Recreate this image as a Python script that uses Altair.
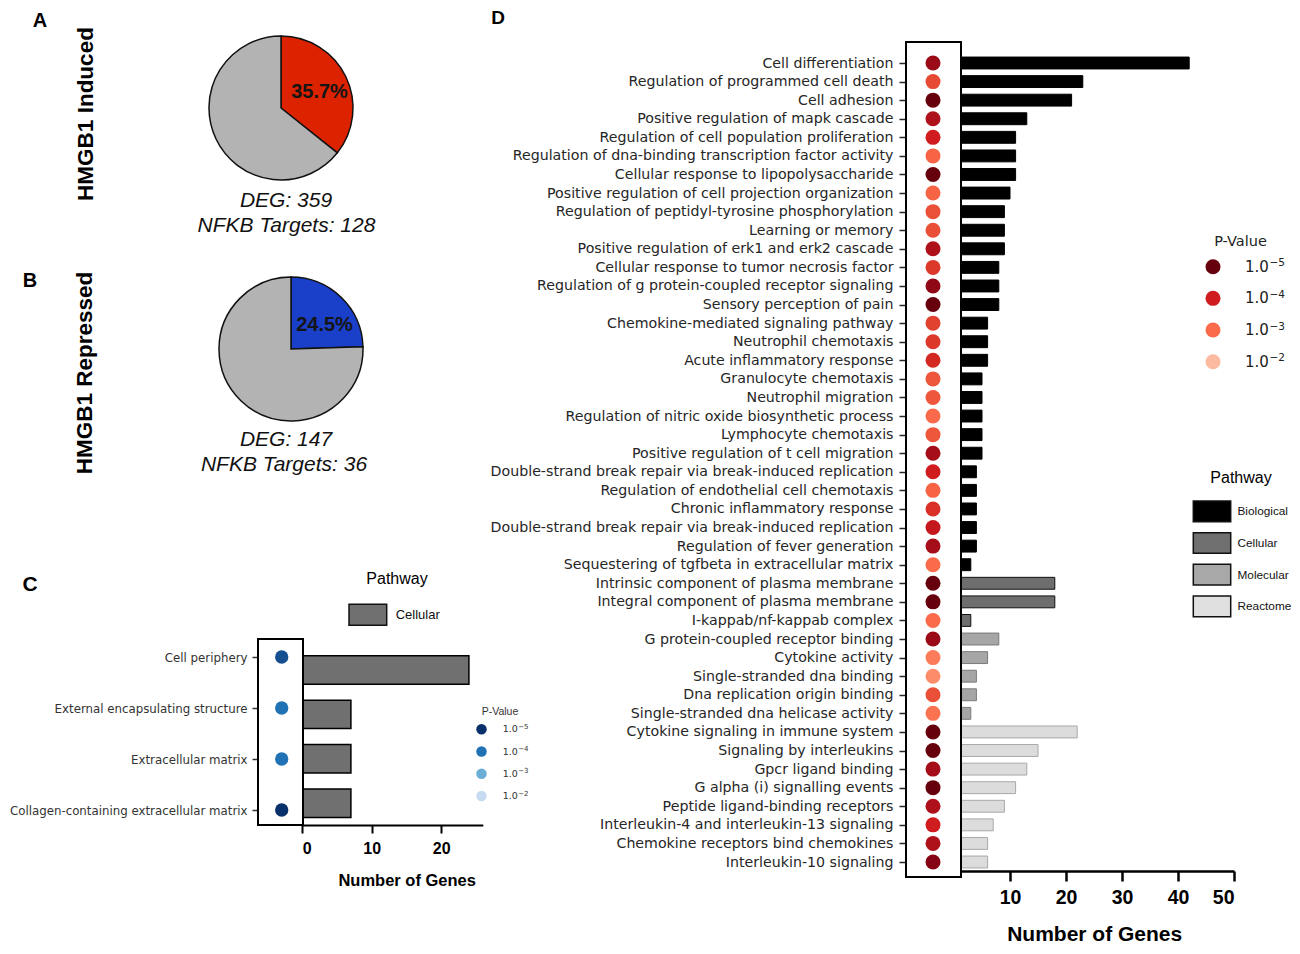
import json
import altair as alt
import pandas as pd

# ---------------- data ----------------
pie_parts = ["NFKB targets", "Other DEG"]
induced_pct = [35.7, 64.3]
repressed_pct = [24.5, 75.5]
induced_deg, induced_targets = 359, 128
repressed_deg, repressed_targets = 147, 36

c_terms = ["Cell periphery", "External encapsulating structure",
           "Extracellular matrix", "Collagen-containing extracellular matrix"]
c_genes = [24, 7, 7, 7]
c_neglog_p = [4.5, 4.0, 4.0, 5.0]

d_terms = [
    "Cell differentiation", "Regulation of programmed cell death", "Cell adhesion",
    "Positive regulation of mapk cascade", "Regulation of cell population proliferation",
    "Regulation of dna-binding transcription factor activity", "Cellular response to lipopolysaccharide",
    "Positive regulation of cell projection organization", "Regulation of peptidyl-tyrosine phosphorylation",
    "Learning or memory", "Positive regulation of erk1 and erk2 cascade",
    "Cellular response to tumor necrosis factor", "Regulation of g protein-coupled receptor signaling",
    "Sensory perception of pain", "Chemokine-mediated signaling pathway", "Neutrophil chemotaxis",
    "Acute inflammatory response", "Granulocyte chemotaxis", "Neutrophil migration",
    "Regulation of nitric oxide biosynthetic process", "Lymphocyte chemotaxis",
    "Positive regulation of t cell migration", "Double-strand break repair via break-induced replication",
    "Regulation of endothelial cell chemotaxis", "Chronic inflammatory response",
    "Double-strand break repair via break-induced replication", "Regulation of fever generation",
    "Sequestering of tgfbeta in extracellular matrix", "Intrinsic component of plasma membrane",
    "Integral component of plasma membrane", "I-kappab/nf-kappab complex",
    "G protein-coupled receptor binding", "Cytokine activity", "Single-stranded dna binding",
    "Dna replication origin binding", "Single-stranded dna helicase activity",
    "Cytokine signaling in immune system", "Signaling by interleukins", "Gpcr ligand binding",
    "G alpha (i) signalling events", "Peptide ligand-binding receptors",
    "Interleukin-4 and interleukin-13 signaling", "Chemokine receptors bind chemokines",
    "Interleukin-10 signaling",
]
d_genes = [42, 23, 21, 13, 11, 11, 11, 10, 9, 9, 9, 8, 8, 8, 6, 6, 6, 5, 5, 5, 5, 5,
           4, 4, 4, 4, 4, 3, 18, 18, 3, 8, 6, 4, 4, 3, 22, 15, 13, 11, 9, 7, 6, 6]
d_pathway = (["Biological"] * 28 + ["Cellular"] * 3 + ["Molecular"] * 5 + ["Reactome"] * 8)
d_neglog_p = [4.5, 3.5, 5.3, 4.3, 4.0, 3.1, 5.3, 3.1, 3.4, 3.4, 4.3, 3.7, 4.6, 5.3,
              3.6, 3.7, 3.9, 3.3, 3.3, 3.0, 3.3, 4.4, 4.0, 3.1, 3.8, 4.1, 4.4, 3.0,
              5.2, 5.2, 3.0, 4.5, 2.8, 2.6, 3.4, 2.9, 5.2, 5.2, 4.4, 5.1, 4.3, 4.0, 4.3, 4.7]

pathways = ["Biological", "Cellular", "Molecular", "Reactome"]
p_levels = [5, 4, 3, 2]
p_label_base = ["1.0", "1.0", "1.0", "1.0"]
p_label_exp = ["\u22125", "\u22124", "\u22123", "\u22122"]

# ---------------- styling ----------------
M = 8
W, H = 1300 - 2 * M, 954 - 2 * M


def P(v):
    return v - M


SANS = "Liberation Sans, Arial, sans-serif"
DJV = "DejaVu Sans, sans-serif"

reds = alt.Scale(type="linear", domain=[2, 3, 4, 5],
                 range=["#fcbba1", "#fb6a4a", "#d01c1f", "#67000d"], clamp=True)
blues = alt.Scale(type="linear", domain=[2, 3, 4, 5],
                  range=["#c6dbef", "#6baed6", "#2171b5", "#08306b"], clamp=True)
bar_fill = alt.Scale(domain=pathways, range=["#000000", "#6e6e6e", "#a6a6a6", "#dcdcdc"])
bar_stroke = alt.Scale(domain=pathways, range=["#000000", "#111111", "#7a7a7a", "#a8a8a8"])
swatch_fill = alt.Scale(domain=pathways, range=["#000000", "#707070", "#a8a8a8", "#e0e0e0"])


def label(text, x, y, size, weight="normal", style="normal", font=SANS,
          angle=0, align="center", color="#000000"):
    kw = dict(fontSize=size, fontWeight=weight, fontStyle=style, font=font,
              align=align, baseline="middle", color=color)
    if angle:
        kw["angle"] = angle
    return alt.Chart(pd.DataFrame({"t": [text]})).mark_text(**kw).encode(
        text="t:N", x=alt.value(P(x)), y=alt.value(P(y)))


def box(x0, x1, y0, y1):
    return alt.Chart(pd.DataFrame({"b": [0]})).mark_rect(
        fill="white", stroke="#000000", strokeWidth=2).encode(
        x=alt.value(P(x0)), x2=alt.value(P(x1)), y=alt.value(P(y0)), y2=alt.value(P(y1)))


def pie(values, colour, cx, cy):
    df = pd.DataFrame({"part": pie_parts, "pct": values, "ord": [0, 1],
                       "col": [colour, "#b3b3b3"]})
    return alt.Chart(df).mark_arc(radius=72, stroke="#111111", strokeWidth=1.5).encode(
        theta=alt.Theta("pct:Q", stack=True),
        order=alt.Order("ord:Q"),
        fill=alt.Fill("col:N", scale=None),
        detail="part:N",
        x=alt.value(P(cx)), y=alt.value(P(cy)))


def pvalue_legend(scale, x_dot, x_lab, y0, y1, dot_size, base_size, exp_size,
                  exp_dx, exp_dy, color):
    df = pd.DataFrame({"level": p_levels, "base": p_label_base, "exp": p_label_exp})
    yy = alt.Y("level:O", sort="descending",
               scale=alt.Scale(type="point", range=[P(y0), P(y1)], padding=0), axis=None)
    dots = alt.Chart(df).mark_circle(size=dot_size, opacity=1).encode(
        x=alt.value(P(x_dot)), y=yy, fill=alt.Fill("level:Q", scale=scale, legend=None))
    base = alt.Chart(df).mark_text(align="left", baseline="middle", font=DJV,
                                   fontSize=base_size, color=color).encode(
        x=alt.value(P(x_lab)), y=yy, text="base:N")
    exp = alt.Chart(df).mark_text(align="left", baseline="middle", font=DJV,
                                  fontSize=exp_size, color=color, dy=exp_dy).encode(
        x=alt.value(P(x_lab + exp_dx)), y=yy, text="exp:N")
    return [dots, base, exp]


layers = []

# ---------------- panels A and B ----------------
layers += [
    label("A", 40, 21, 20, "bold"),
    label("HMGB1 Induced", 86, 114, 22.5, "bold", angle=270),
    pie(induced_pct, "#dd2200", 281, 108),
    label(f"{induced_pct[0]}%", 319.5, 92, 20, "bold", color="#151515"),
    label(f"DEG: {induced_deg}", 286, 200.5, 21, style="italic", color="#111111"),
    label(f"NFKB Targets: {induced_targets}", 286.5, 226, 21, style="italic", color="#111111"),
    label("B", 30, 281, 20, "bold"),
    label("HMGB1 Repressed", 85, 373, 22.5, "bold", angle=270),
    pie(repressed_pct, "#1a3fc8", 291, 349),
    label(f"{repressed_pct[0]}%", 324.5, 325, 20, "bold", color="#151515"),
    label(f"DEG: {repressed_deg}", 286, 440, 21, style="italic", color="#111111"),
    label(f"NFKB Targets: {repressed_targets}", 284, 465, 21, style="italic", color="#111111"),
]

# ---------------- panel C ----------------
c_df = pd.DataFrame({"term": c_terms, "genes": c_genes, "lp": c_neglog_p})
c_bars = alt.Chart(c_df).mark_bar(fill="#707070", stroke="#000000", strokeWidth=1.5).encode(
    x=alt.X("genes:Q",
            scale=alt.Scale(domain=[0, 26], range=[P(302.3), P(482.8)], nice=False),
            axis=alt.Axis(orient="bottom", offset=P(825) - H, values=[0, 10, 20], grid=False,
                          domainColor="#000000", domainWidth=2, tickColor="#000000",
                          tickWidth=2, tickSize=8, labelPadding=7,
                          labelFont=SANS, labelFontSize=16, labelFontWeight="bold",
                          labelColor="#000000", title="Number of Genes",
                          titleFont=SANS, titleFontSize=16.5, titleFontWeight="bold",
                          titleColor="#000000", titleX=P(406.7), titleY=880 - 825,
                          titleAlign="center", titleBaseline="middle")),
    y=alt.Y("term:N", sort=c_terms,
            scale=alt.Scale(type="band", range=[P(647.8), P(825.4)],
                            paddingInner=0.36, paddingOuter=0.18),
            axis=None),
)
c_dots = alt.Chart(c_df).mark_circle(size=178, opacity=1).encode(
    x=alt.value(P(281.7)),
    y=alt.Y("term:N", sort=c_terms,
            scale=alt.Scale(type="point", range=[P(657), P(810)], padding=0),
            axis=alt.Axis(orient="left", offset=-P(258), domain=False, ticks=True,
                          tickSize=6, tickColor="#333333", tickWidth=1.5, labelPadding=5,
                          labelFont=DJV, labelFontSize=11.8, labelColor="#333333",
                          labelLimit=600, title=None)),
    fill=alt.Fill("lp:Q", scale=blues, legend=None),
)
c_path_df = pd.DataFrame({"pathway": [pathways[1]]})
layers += [
    label("C", 30, 585, 21, "bold"),
    c_bars,
    box(258, 303, 639, 825),
    c_dots,
    label("Pathway", 397, 579.3, 16),
    alt.Chart(c_path_df).mark_rect(stroke="#111111", strokeWidth=1.5).encode(
        x=alt.value(P(349)), x2=alt.value(P(386.7)),
        y=alt.value(P(604.3)), y2=alt.value(P(625.3)),
        fill=alt.Fill("pathway:N", scale=swatch_fill, legend=None)),
    alt.Chart(c_path_df).mark_text(align="left", baseline="middle", font=SANS, fontSize=13,
                                   color="#111111").encode(
        text="pathway:N", x=alt.value(P(395.7)), y=alt.value(P(615.3))),
    label("P-Value", 500, 712, 10.5, color="#333333"),
]
layers += pvalue_legend(blues, 481.5, 502.7, 729.3, 796, 110, 9.5, 7, 15.5, -2.5, "#333333")

# ---------------- panel D ----------------
d_df = pd.DataFrame({"row": list(range(len(d_terms))), "term": d_terms, "genes": d_genes,
                     "pathway": d_pathway, "lp": d_neglog_p})
step = (862 - 63) / (len(d_terms) - 1)
d_bars = alt.Chart(d_df).mark_bar(strokeWidth=1).encode(
    x=alt.X("genes:Q",
            scale=alt.Scale(domain=[0, 50], range=[P(954), P(1234)], nice=False),
            axis=alt.Axis(orient="bottom", offset=P(871) - H, values=[10, 20, 30, 40, 50],
                          grid=False, domainColor="#000000", domainWidth=2.5,
                          tickColor="#000000", tickWidth=2.5, tickSize=10, labelPadding=7,
                          labelFont=SANS, labelFontSize=19.5, labelFontWeight="bold",
                          labelColor="#000000", title="Number of Genes",
                          titleFont=SANS, titleFontSize=21, titleFontWeight="bold",
                          titleColor="#000000", titleX=P(1094.2), titleY=934.5 - 871,
                          titleAlign="center", titleBaseline="middle")),
    y=alt.Y("row:O", sort="ascending",
            scale=alt.Scale(type="band", range=[P(63 - step / 2), P(862 + step / 2)],
                            paddingInner=0.36, paddingOuter=0.18),
            axis=None),
    fill=alt.Fill("pathway:N", scale=bar_fill, legend=None),
    stroke=alt.Stroke("pathway:N", scale=bar_stroke, legend=None),
)
d_dots = alt.Chart(d_df).mark_circle(size=225, opacity=1).encode(
    x=alt.value(P(933)),
    y=alt.Y("row:O", sort="ascending",
            scale=alt.Scale(type="point", range=[P(63), P(862)], padding=0),
            axis=alt.Axis(orient="left", offset=-P(906), domain=False, ticks=True,
                          tickSize=7, tickColor="#262626", tickWidth=1.5, labelPadding=6,
                          labelFont=DJV, labelFontSize=14.2, labelColor="#262626",
                          labelLimit=800, title=None,
                          labelExpr=json.dumps(d_terms) + "[datum.value]")),
    fill=alt.Fill("lp:Q", scale=reds, legend=None),
)
path_df = pd.DataFrame({"pathway": pathways})
path_y = alt.Y("pathway:N", sort=pathways,
               scale=alt.Scale(type="band", range=[P(501), P(616.7)],
                               paddingInner=0.346, paddingOuter=0), axis=None)
layers += [
    label("D", 498, 18, 19, "bold"),
    d_bars,
    box(906, 961, 42, 877),
    d_dots,
    label("P-Value", 1240.5, 241.7, 14.5, font=DJV, color="#222222"),
]
layers += pvalue_legend(reds, 1213, 1245, 266.7, 361.7, 225, 15, 10.5, 24.5, -3.5, "#222222")
layers += [
    label("Pathway", 1241, 477.7, 16),
    alt.Chart(path_df).mark_rect(stroke="#111111", strokeWidth=1.5).encode(
        x=alt.value(P(1193.3)), x2=alt.value(P(1230.7)), y=path_y,
        fill=alt.Fill("pathway:N", scale=swatch_fill, legend=None)),
    alt.Chart(path_df).mark_text(align="left", baseline="middle", font=SANS, fontSize=11.8,
                                 color="#111111").encode(
        x=alt.value(P(1237.5)), y=path_y, text="pathway:N"),
]

chart = alt.layer(*layers).resolve_scale(
    x="independent", y="independent", fill="independent", stroke="independent",
    theta="independent",
).properties(
    width=W, height=H, padding=0, autosize=alt.AutoSizeParams(type="none"),
).configure_view(stroke=None)

chart.save("out.html", embed_options={"renderer": "svg", "actions": False})
